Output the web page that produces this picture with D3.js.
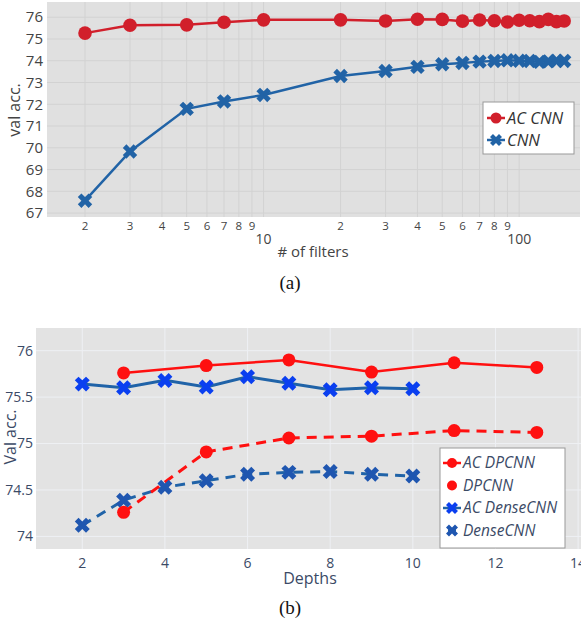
<!DOCTYPE html>
<html>
<head>
    <script src="https://d3js.org/d3.v7.min.js"></script>
    <style>
        body { margin: 0; background: white; }
    </style>
</head>
<body>
    <svg id="plot" width="581" height="628"></svg>
    <script>
        // ---- data (a) ----
        const filters = [2, 3, 5, 7, 10, 20, 30, 40, 50, 60, 70, 80, 90, 100, 110, 120, 130, 140, 150];
        const acCnn = [75.27, 75.63, 75.65, 75.77, 75.88, 75.88, 75.83, 75.91, 75.90, 75.82, 75.87, 75.84, 75.78, 75.86, 75.84, 75.80, 75.90, 75.80, 75.83];
        const cnn = [67.57, 69.83, 71.79, 72.13, 72.43, 73.30, 73.53, 73.72, 73.84, 73.90, 73.96, 73.99, 74.02, 74.00, 73.99, 73.95, 73.97, 74.00, 73.99];
        const topYTicks = [67, 68, 69, 70, 71, 72, 73, 74, 75, 76];
        const topXTicks = [2, 3, 4, 5, 6, 7, 8, 9, 10, 20, 30, 40, 50, 60, 70, 80, 90, 100];

        // ---- data (b) ----
        const depthsDp = [3, 5, 7, 9, 11, 13];
        const acDpcnn = [75.76, 75.84, 75.90, 75.77, 75.87, 75.82];
        const dpcnn = [74.26, 74.91, 75.06, 75.08, 75.14, 75.12];
        const depthsDense = [2, 3, 4, 5, 6, 7, 8, 9, 10];
        const acDense = [75.64, 75.60, 75.68, 75.61, 75.72, 75.65, 75.58, 75.60, 75.59];
        const dense = [74.12, 74.39, 74.53, 74.60, 74.67, 74.69, 74.70, 74.67, 74.65];
        const botYTicks = [74, 74.5, 75, 75.5, 76];
        const botXTicks = [2, 4, 6, 8, 10, 12, 14];

        const svg = d3.select('svg#plot');
        const font = "'Open Sans', sans-serif";

        function drawMarker(g, kind, x, y, color, r) {
            if (kind === 'circle') {
                g.append('circle').attr('cx', x).attr('cy', y).attr('r', r).style('fill', color);
            } else {
                g.append('path').attr('d', d3.symbol().type(d3.symbolCross).size(r)())
                    .attr('transform', `translate(${x},${y}) rotate(45)`)
                    .style('fill', color);
            }
        }

        // ================= chart (a) =================
        const a = {left: 47, right: 580, top: 2, bottom: 217};
        const xA = d3.scaleLog().domain([1.42, 173]).range([a.left, a.right]);
        const yA = d3.scaleLinear().domain([66.82, 76.7]).range([a.bottom, a.top]);
        const gA = svg.append('g');
        gA.append('rect').attr('x', a.left).attr('y', a.top)
            .attr('width', a.right - a.left).attr('height', a.bottom - a.top)
            .style('fill', '#e0e0e0');

        topXTicks.forEach(t => {
            gA.append('line').attr('x1', xA(t)).attr('x2', xA(t)).attr('y1', a.top).attr('y2', a.bottom)
                .style('stroke', '#d2d2d2').style('stroke-width', 1);
        });
        topYTicks.forEach(t => {
            gA.append('line').attr('x1', a.left).attr('x2', a.right).attr('y1', yA(t)).attr('y2', yA(t))
                .style('stroke', '#d2d2d2').style('stroke-width', 1);
            gA.append('text').attr('x', a.left - 4).attr('y', yA(t)).attr('dy', '0.35em')
                .attr('text-anchor', 'end').style('font-family', font).style('font-size', '15px')
                .style('fill', '#444').text(t);
        });
        topXTicks.forEach(t => {
            const major = (t === 10 || t === 100);
            gA.append('text').attr('x', xA(t)).attr('y', major ? 244 : 230)
                .attr('text-anchor', 'middle').style('font-family', font)
                .style('font-size', major ? '14px' : '11.5px')
                .style('fill', '#444').text(major ? t : String(t).charAt(0));
        });
        gA.append('text').attr('x', 313).attr('y', 257).attr('text-anchor', 'middle')
            .style('font-family', font).style('font-size', '15px').style('fill', '#444').text('# of filters');
        gA.append('text').attr('transform', `translate(20,110) rotate(-90)`).attr('text-anchor', 'middle')
            .style('font-family', font).style('font-size', '16px').style('fill', '#444').text('val acc.');
        gA.append('text').attr('x', 290).attr('y', 289).attr('text-anchor', 'middle')
            .style('font-family', "'Liberation Serif', serif").style('font-size', '19px').style('fill', '#111').text('(a)');

        const redA = '#d11f2b', blueA = '#2163a6';
        const lineA = d3.line().x((d, i) => xA(filters[i])).y(d => yA(d));
        gA.append('path').datum(cnn).attr('d', lineA).style('fill', 'none').style('stroke', blueA).style('stroke-width', 2.5);
        cnn.forEach((d, i) => drawMarker(gA, 'x', xA(filters[i]), yA(d), blueA, 130));
        gA.append('path').datum(acCnn).attr('d', lineA).style('fill', 'none').style('stroke', redA).style('stroke-width', 2.5);
        acCnn.forEach((d, i) => drawMarker(gA, 'circle', xA(filters[i]), yA(d), redA, 6.8));

        // legend (a)
        const legA = gA.append('g');
        legA.append('rect').attr('x', 483).attr('y', 102).attr('width', 91).attr('height', 52)
            .style('fill', 'white').style('stroke', '#999').style('stroke-width', 1);
        [['AC CNN', redA, 'circle', 5.5], ['CNN', blueA, 'x', 90]].forEach((e, i) => {
            const yy = 118 + i * 22;
            legA.append('line').attr('x1', 487).attr('x2', 505).attr('y1', yy).attr('y2', yy)
                .style('stroke', e[1]).style('stroke-width', 2.5);
            drawMarker(legA, e[2], 496, yy, e[1], e[3]);
            legA.append('text').attr('x', 507).attr('y', yy).attr('dy', '0.35em')
                .style('font-family', font).style('font-style', 'italic').style('font-size', '16.5px')
                .style('fill', '#333').text(e[0]);
        });

        // ================= chart (b) =================
        const b = {left: 36, right: 581, top: 328, bottom: 549};
        const xB = d3.scaleLinear().domain([0.88, 14.07]).range([b.left, b.right]);
        const yB = d3.scaleLinear().domain([73.865, 76.244]).range([b.bottom, b.top]);
        const gB = svg.append('g');
        const txtB = '#3b4a66';
        gB.append('rect').attr('x', b.left).attr('y', b.top)
            .attr('width', b.right - b.left).attr('height', b.bottom - b.top)
            .style('fill', '#e3e3e3');
        botXTicks.forEach(t => {
            gB.append('line').attr('x1', xB(t)).attr('x2', xB(t)).attr('y1', b.top).attr('y2', b.bottom)
                .style('stroke', '#eef0f4').style('stroke-width', 1);
            gB.append('text').attr('x', xB(t)).attr('y', 563).attr('dy', '0.35em').attr('text-anchor', 'middle')
                .style('font-family', font).style('font-size', '14px').style('fill', txtB).text(t);
        });
        botYTicks.forEach(t => {
            gB.append('line').attr('x1', b.left).attr('x2', b.right).attr('y1', yB(t)).attr('y2', yB(t))
                .style('stroke', '#eef0f4').style('stroke-width', 1);
            gB.append('text').attr('x', b.left - 3).attr('y', yB(t)).attr('dy', '0.35em').attr('text-anchor', 'end')
                .style('font-family', font).style('font-size', '14px').style('fill', txtB).text(t);
        });
        gB.append('text').attr('x', 310).attr('y', 584).attr('text-anchor', 'middle')
            .style('font-family', font).style('font-size', '16px').style('fill', txtB).text('Depths');
        gB.append('text').attr('transform', `translate(16,437) rotate(-90)`).attr('text-anchor', 'middle')
            .style('font-family', font).style('font-size', '16px').style('fill', txtB).text('Val acc.');
        gB.append('text').attr('x', 290).attr('y', 614).attr('text-anchor', 'middle')
            .style('font-family', "'Liberation Serif', serif").style('font-size', '19px').style('fill', '#111').text('(b)');

        const redB = '#ff1010', blueLine = '#2063a8', blueBright = '#0a3ff0', blueDark = '#1f56b0';
        const lineDp = d3.line().x((d, i) => xB(depthsDp[i])).y(d => yB(d));
        const lineDense = d3.line().x((d, i) => xB(depthsDense[i])).y(d => yB(d));

        gB.append('path').datum(dense).attr('d', lineDense).style('fill', 'none')
            .style('stroke', blueLine).style('stroke-width', 3).style('stroke-dasharray', '10,7');
        gB.append('path').datum(dpcnn).attr('d', lineDp).style('fill', 'none')
            .style('stroke', redB).style('stroke-width', 3).style('stroke-dasharray', '10,7');
        gB.append('path').datum(acDense).attr('d', lineDense).style('fill', 'none')
            .style('stroke', blueLine).style('stroke-width', 3);
        gB.append('path').datum(acDpcnn).attr('d', lineDp).style('fill', 'none')
            .style('stroke', redB).style('stroke-width', 2.5);
        dense.forEach((d, i) => drawMarker(gB, 'x', xB(depthsDense[i]), yB(d), blueDark, 140));
        dpcnn.forEach((d, i) => drawMarker(gB, 'circle', xB(depthsDp[i]), yB(d), redB, 6.5));
        acDense.forEach((d, i) => drawMarker(gB, 'x', xB(depthsDense[i]), yB(d), blueBright, 140));
        acDpcnn.forEach((d, i) => drawMarker(gB, 'circle', xB(depthsDp[i]), yB(d), redB, 6.5));

        // legend (b)
        const legB = gB.append('g');
        legB.append('rect').attr('x', 440).attr('y', 448).attr('width', 125).attr('height', 100)
            .style('fill', 'white').style('stroke', '#999').style('stroke-width', 1);
        [['AC DPCNN', redB, 'circle', 5, redB, true],
         ['DPCNN', redB, 'circle', 5, null, false],
         ['AC DenseCNN', blueBright, 'x', 90, blueLine, true],
         ['DenseCNN', blueDark, 'x', 90, blueLine, false]].forEach((e, i) => {
            const yy = 463 + i * 22.5;
            legB.append('line').attr('x1', 443).attr('x2', 461).attr('y1', yy).attr('y2', yy)
                .style('stroke', e[4] || e[1]).style('stroke-width', 2.5)
                .style('stroke-dasharray', e[5] ? null : '0,5,8,0');
            drawMarker(legB, e[2], 452, yy, e[1], e[3]);
            legB.append('text').attr('x', 463).attr('y', yy).attr('dy', '0.35em')
                .style('font-family', font).style('font-style', 'italic').style('font-size', '15.5px')
                .style('fill', txtB).text(e[0]);
        });
    </script>
</body>
</html>
